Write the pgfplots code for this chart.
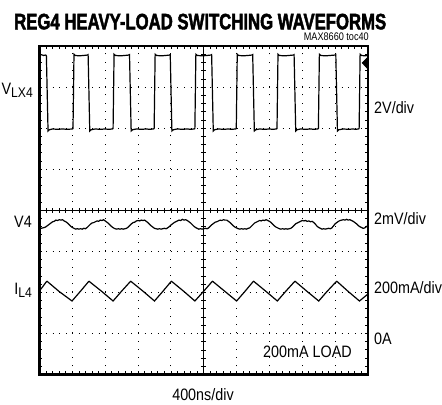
\documentclass[border=0pt]{standalone}
\usepackage{pgfplots}
\pgfplotsset{compat=1.18}
\usepackage{fontspec}
\setmainfont{Liberation Sans}
\newfontfamily\condf[FakeStretch=0.87]{Liberation Sans}
\newfontfamily\tocf[FakeStretch=0.83]{Liberation Sans}
\newfontfamily\titlef[FakeStretch=0.75,FakeBold=2]{Liberation Sans Bold}
\newcommand{\lab}{\condf\fontsize{16.5bp}{18bp}\selectfont}
\newcommand{\sublab}{\condf\fontsize{14bp}{16bp}\selectfont}
\begin{document}
\begin{tikzpicture}
\path[use as bounding box] (0,0) rectangle (442bp,405bp);
% crosshair at the screen centre
\begin{axis}[
  at={(39.5bp,30.5bp)}, anchor=south west,
  width=328.5bp, height=328.5bp, scale only axis,
  xmin=-5, xmax=5, ymin=-4, ymax=4,
  axis lines=center,
  axis line style={-, line width=0.7bp, black},
  xtick={-4.8,-4.6,...,4.81}, ytick={-3.8,-3.6,...,3.81},
  xticklabels={}, yticklabels={},
  tick align=center, major tick length=5bp,
  tick style={line width=0.7bp, black},
]
\end{axis}
\begin{axis}[
  at={(39.5bp,30.5bp)}, anchor=south west,
  width=328.5bp, height=328.5bp, scale only axis,
  xmin=0, xmax=10, ymin=0, ymax=8,
  axis line style={line width=2.6bp, black},
  xtick={0,...,10}, ytick={0,...,8},
  minor x tick num=4, minor y tick num=4,
  xticklabels={}, yticklabels={},
  xtick pos=both, ytick pos=both,
  tick align=inside, major tick length=3bp, minor tick length=3bp,
  tick style={line width=0.8bp, black},
  grid=major,
  every major x grid/.append style={black, line width=1bp, dash pattern=on 1bp off 7.21bp},
  every major y grid/.append style={black, line width=1bp, dash pattern=on 1bp off 5.57bp},
]
% V_LX4 switching node
\addplot[black, line width=1.2bp] coordinates {
(0.00,7.78) (0.05,7.79) (0.12,7.77) (0.19,7.78)
(0.21,7.76) (0.26,5.93) (0.30,5.96) (0.40,5.98) (0.55,5.97) (0.70,5.98) (0.85,5.97) (1.00,5.98)
(1.02,5.99) (1.05,7.80) (1.09,7.77) (1.20,7.76) (1.35,7.77) (1.46,7.78)
(1.48,7.79) (1.53,5.93) (1.57,5.96) (1.70,5.98) (1.85,5.97) (2.00,5.98) (2.10,5.97) (2.22,5.98)
(2.24,5.99) (2.27,7.80) (2.31,7.77) (2.45,7.76) (2.60,7.77) (2.72,7.78)
(2.74,7.79) (2.79,5.93) (2.83,5.96) (2.95,5.98) (3.10,5.97) (3.25,5.98) (3.35,5.97) (3.47,5.98)
(3.49,5.99) (3.52,7.80) (3.56,7.77) (3.70,7.76) (3.85,7.77) (3.96,7.78)
(3.98,7.79) (4.03,5.93) (4.07,5.96) (4.20,5.98) (4.35,5.97) (4.50,5.98) (4.60,5.97) (4.71,5.98)
(4.73,5.99) (4.76,7.80) (4.80,7.77) (4.95,7.76) (5.10,7.77) (5.22,7.78)
(5.24,7.79) (5.29,5.93) (5.33,5.96) (5.45,5.98) (5.60,5.97) (5.75,5.98) (5.85,5.97) (5.97,5.98)
(5.99,5.99) (6.02,7.80) (6.06,7.77) (6.20,7.76) (6.35,7.77) (6.47,7.78)
(6.49,7.79) (6.54,5.93) (6.58,5.96) (6.70,5.98) (6.85,5.97) (7.00,5.98) (7.10,5.97) (7.21,5.98)
(7.23,5.99) (7.26,7.80) (7.30,7.77) (7.45,7.76) (7.60,7.77) (7.73,7.78)
(7.75,7.79) (7.80,5.93) (7.84,5.96) (7.95,5.98) (8.10,5.97) (8.25,5.98) (8.35,5.97) (8.47,5.98)
(8.49,5.99) (8.52,7.80) (8.56,7.77) (8.70,7.76) (8.85,7.77) (9.00,7.78)
(9.02,7.79) (9.07,5.93) (9.11,5.96) (9.25,5.98) (9.40,5.97) (9.55,5.98) (9.62,5.97) (9.71,5.98)
(9.73,5.99) (9.76,7.80) (9.80,7.77) (9.90,7.76) (10.00,7.77)
};
% V4 output ripple
\addplot[black, line width=1.2bp] coordinates {
(0.00,3.57) (0.05,3.56) (0.10,3.57) (0.15,3.58) (0.20,3.60) (0.25,3.63) (0.30,3.66) (0.35,3.69) (0.40,3.72) (0.45,3.73) (0.50,3.76) (0.55,3.75) (0.60,3.77) (0.65,3.76) (0.70,3.77) (0.75,3.74) (0.80,3.72) (0.85,3.69) (0.90,3.65) (0.95,3.61) (1.00,3.58) (1.05,3.56) (1.10,3.54) (1.15,3.55) (1.20,3.54)
(1.25,3.55) (1.30,3.54) (1.35,3.56) (1.40,3.55) (1.45,3.58) (1.50,3.62) (1.55,3.66) (1.60,3.69) (1.65,3.70) (1.70,3.72) (1.75,3.74) (1.80,3.73) (1.85,3.76) (1.90,3.75) (1.95,3.77) (2.00,3.74) (2.05,3.71) (2.10,3.68) (2.15,3.64) (2.20,3.60) (2.25,3.57) (2.30,3.55) (2.35,3.54) (2.40,3.55) (2.45,3.54)
(2.50,3.55) (2.55,3.54) (2.60,3.55) (2.65,3.56) (2.70,3.59) (2.75,3.63) (2.80,3.67) (2.85,3.70) (2.90,3.71) (2.95,3.74) (3.00,3.75) (3.05,3.74) (3.10,3.76) (3.15,3.75) (3.20,3.76) (3.25,3.73) (3.30,3.70) (3.35,3.66) (3.40,3.62) (3.45,3.59) (3.50,3.56) (3.55,3.55) (3.60,3.54) (3.65,3.55) (3.70,3.54)
(3.75,3.55) (3.80,3.56) (3.85,3.55) (3.90,3.57) (3.95,3.60) (4.00,3.64) (4.05,3.67) (4.10,3.70) (4.15,3.72) (4.20,3.74) (4.25,3.76) (4.30,3.75) (4.35,3.78) (4.40,3.76) (4.45,3.77) (4.50,3.75) (4.55,3.72) (4.60,3.69) (4.65,3.65) (4.70,3.61) (4.75,3.58) (4.80,3.56) (4.85,3.54) (4.90,3.55) (4.95,3.54)
(5.00,3.55) (5.05,3.56) (5.10,3.55) (5.15,3.57) (5.20,3.61) (5.25,3.65) (5.30,3.68) (5.35,3.71) (5.40,3.72) (5.45,3.74) (5.50,3.76) (5.55,3.75) (5.60,3.77) (5.65,3.76) (5.70,3.76) (5.75,3.73) (5.80,3.70) (5.85,3.66) (5.90,3.62) (5.95,3.59) (6.00,3.57) (6.05,3.55) (6.10,3.54) (6.15,3.55) (6.20,3.54)
(6.25,3.55) (6.30,3.54) (6.35,3.56) (6.40,3.57) (6.45,3.61) (6.50,3.65) (6.55,3.69) (6.60,3.71) (6.65,3.73) (6.70,3.75) (6.75,3.74) (6.80,3.76) (6.85,3.75) (6.90,3.77) (6.95,3.75) (7.00,3.73) (7.05,3.70) (7.10,3.66) (7.15,3.62) (7.20,3.59) (7.25,3.57) (7.30,3.55) (7.35,3.54) (7.40,3.55) (7.45,3.54)
(7.50,3.55) (7.55,3.54) (7.60,3.55) (7.65,3.56) (7.70,3.59) (7.75,3.63) (7.80,3.67) (7.85,3.69) (7.90,3.71) (7.95,3.73) (8.00,3.75) (8.05,3.74) (8.10,3.75) (8.15,3.73) (8.20,3.74) (8.25,3.72) (8.30,3.73) (8.35,3.70) (8.40,3.66) (8.45,3.61) (8.50,3.58) (8.55,3.56) (8.60,3.54) (8.65,3.55) (8.70,3.54)
(8.75,3.55) (8.80,3.56) (8.85,3.55) (8.90,3.57) (8.95,3.62) (9.00,3.67) (9.05,3.70) (9.10,3.73) (9.15,3.75) (9.20,3.76) (9.25,3.77) (9.30,3.76) (9.35,3.78) (9.40,3.76) (9.45,3.77) (9.50,3.75) (9.55,3.73) (9.60,3.70) (9.65,3.67) (9.70,3.63) (9.75,3.60) (9.80,3.58) (9.85,3.56) (9.90,3.57) (9.95,3.60) (10.00,3.63)
};
% I_L4 inductor current
\addplot[black, line width=1.2bp] coordinates {
(0.00,2.04) (0.10,2.14) (0.20,2.25) (0.23,2.27) (0.26,2.25) (0.60,2.02) (0.99,1.79)
(1.25,2.03) (1.48,2.25) (1.51,2.27) (1.54,2.25) (1.90,2.02) (2.24,1.79)
(2.50,2.03) (2.75,2.25) (2.78,2.27) (2.81,2.25) (3.15,2.03) (3.50,1.79)
(3.75,2.02) (3.99,2.25) (4.02,2.27) (4.05,2.25) (4.40,2.02) (4.73,1.79)
(5.00,2.03) (5.24,2.25) (5.27,2.27) (5.30,2.25) (5.65,2.02) (6.00,1.79)
(6.25,2.02) (6.49,2.25) (6.52,2.27) (6.55,2.25) (6.90,2.02) (7.24,1.79)
(7.50,2.03) (7.75,2.25) (7.78,2.27) (7.81,2.25) (8.15,2.02) (8.50,1.79)
(8.75,2.02) (9.02,2.25) (9.05,2.27) (9.08,2.25) (9.40,2.02) (9.74,1.79)
(10.00,1.96)
};
% channel marker on the right edge
\addplot[fill=black, draw=black, line width=0.5bp] coordinates {(9.97,7.71) (9.82,7.59) (9.97,7.46)} --cycle;
\end{axis}
% titles and labels
\node[anchor=base west, inner sep=0pt] at (14bp,375.7bp) {\titlef\fontsize{22.3bp}{24bp}\selectfont REG4 HEAVY-LOAD SWITCHING WAVEFORMS};
\node[anchor=base east, inner sep=0pt] at (369bp,364bp) {\tocf\fontsize{11bp}{12bp}\selectfont MAX8660 toc40};
\node[anchor=base east, inner sep=0pt] at (33bp,310bp) {\lab V\raisebox{-2.5bp}{\sublab LX4}};
\node[anchor=base east, inner sep=0pt] at (32bp,177.5bp) {\lab V4};
\node[anchor=base east, inner sep=0pt] at (32bp,110bp) {\lab I\raisebox{-2.5bp}{\sublab L4}};
\node[anchor=base west, inner sep=0pt] at (374bp,291bp) {\lab 2V/div};
\node[anchor=base west, inner sep=0pt] at (374bp,180bp) {\lab 2mV/div};
\node[anchor=base west, inner sep=0pt] at (374bp,111bp) {\lab 200mA/div};
\node[anchor=base west, inner sep=0pt] at (374bp,60bp) {\lab 0A};
\node[anchor=base west, inner sep=0pt] at (263bp,47bp) {\lab 200mA LOAD};
\node[anchor=base, inner sep=0pt] at (203bp,5bp) {\lab 400ns/div};
\end{tikzpicture}
\end{document}
